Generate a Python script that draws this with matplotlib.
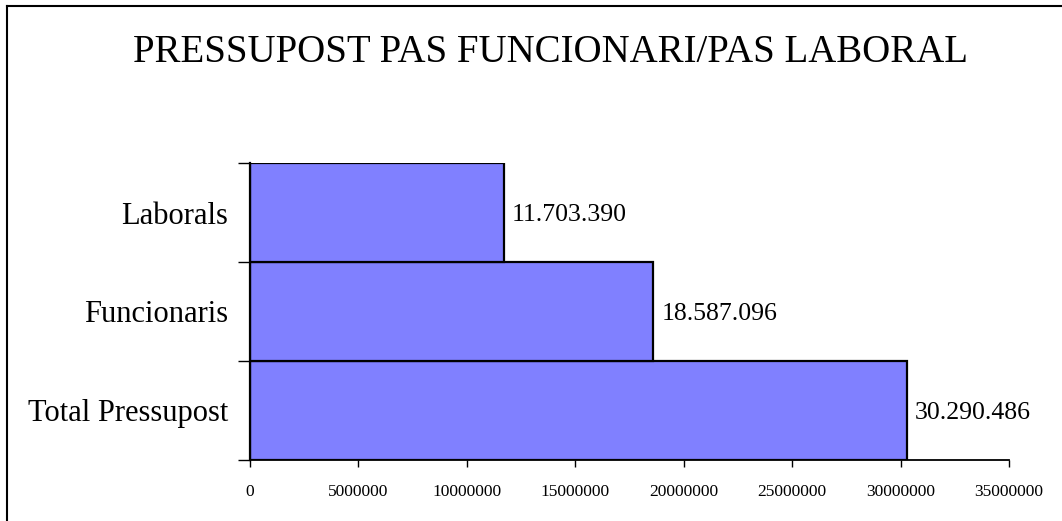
import matplotlib
matplotlib.use('Agg')
import matplotlib.pyplot as plt
from matplotlib.lines import Line2D

categories = ['Total Pressupost', 'Funcionaris', 'Laborals']
values = [30290486, 18587096, 11703390]
xticks = [0, 5000000, 10000000, 15000000, 20000000, 25000000, 30000000, 35000000]
title = 'PRESSUPOST PAS FUNCIONARI/PAS LABORAL'

plt.rcParams['font.family'] = ['Liberation Serif', 'DejaVu Serif']

fig = plt.figure(figsize=(10.62, 5.21), dpi=100)
ax = fig.add_axes([250 / 1062, 61 / 521, 759 / 1062, 297 / 521])

ypos = list(range(len(categories)))
ax.barh(ypos, values, height=1.0, color='#8080FF', edgecolor='black', linewidth=1.6)

# value labels with dot thousands separators
for y, v in zip(ypos, values):
    label = f'{v:,}'.replace(',', '.')
    ax.text(v + 380000, y - 0.03, label, va='center', ha='left', fontsize=18.5)

ax.set_xlim(0, 35000000)
ax.set_ylim(-0.5, len(categories) - 0.5)

ax.set_xticks(xticks)
ax.set_xticklabels([str(t) for t in xticks], fontsize=12.5)
ax.tick_params(axis='x', direction='out', length=5, width=1, pad=12)

# category boundaries as major ticks, labels at centres as minor ticks
ax.set_yticks([i - 0.5 for i in range(len(categories) + 1)])
ax.set_yticklabels([])
ax.tick_params(axis='y', which='major', direction='out', length=9, width=1)
ax.set_yticks(ypos, minor=True)
ax.set_yticklabels(categories, minor=True, fontsize=22)
ax.tick_params(axis='y', which='minor', length=0, pad=15.5)

for s in ['top', 'right']:
    ax.spines[s].set_visible(False)
ax.spines['left'].set_linewidth(1.6)
ax.spines['bottom'].set_linewidth(1.3)

fig.text(0.518, 1 - 52 / 521, title, ha='center', va='center', fontsize=28)

# chart area border (left and top visible)
fig.add_artist(Line2D([7 / 1062, 7 / 1062], [0, 1 - 6 / 521], color='black', linewidth=1.5))
fig.add_artist(Line2D([7 / 1062, 1], [1 - 6 / 521, 1 - 6 / 521], color='black', linewidth=1.5))

fig.savefig('out.png', dpi=100)
plt.close(fig)
